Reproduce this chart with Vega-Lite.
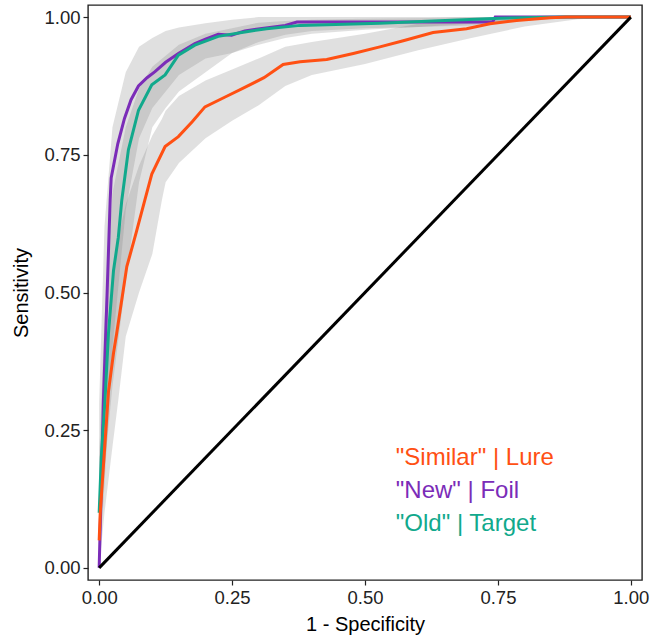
{
  "$schema": "https://vega.github.io/schema/vega-lite/v6.json",
  "width": 554,
  "height": 575,
  "autosize": "none",
  "padding": {"left": 88, "top": 5, "right": 21, "bottom": 57},
  "background": "white",
  "config": {
    "font": "Liberation Sans",
    "view": {"stroke": "#222222", "strokeWidth": 1.4},
    "axis": {
      "domain": false, "grid": false,
      "tickColor": "#222222", "tickSize": 5, "tickWidth": 1.2,
      "labelColor": "#222222", "labelFontSize": 18.5, "labelFont": "Liberation Sans",
      "titleColor": "#000000", "titleFontSize": 20, "titleFontWeight": "normal", "titleFont": "Liberation Sans"
    }
  },
  "datasets": {
    "bands": [
      {"s": "New", "fpr": 0, "lo": 0, "hi": 0.3},
      {"s": "New", "fpr": 0.01, "lo": 0.15, "hi": 0.62},
      {"s": "New", "fpr": 0.025, "lo": 0.4, "hi": 0.8},
      {"s": "New", "fpr": 0.05, "lo": 0.65, "hi": 0.9},
      {"s": "New", "fpr": 0.075, "lo": 0.78, "hi": 0.946},
      {"s": "New", "fpr": 0.1, "lo": 0.835, "hi": 0.962},
      {"s": "New", "fpr": 0.125, "lo": 0.865, "hi": 0.975},
      {"s": "New", "fpr": 0.15, "lo": 0.895, "hi": 0.981},
      {"s": "New", "fpr": 0.2, "lo": 0.925, "hi": 0.989},
      {"s": "New", "fpr": 0.25, "lo": 0.935, "hi": 0.995},
      {"s": "New", "fpr": 0.3, "lo": 0.955, "hi": 1},
      {"s": "New", "fpr": 0.35, "lo": 0.968, "hi": 1},
      {"s": "New", "fpr": 0.4, "lo": 0.975, "hi": 1},
      {"s": "New", "fpr": 0.5, "lo": 0.98, "hi": 1},
      {"s": "New", "fpr": 0.6, "lo": 0.982, "hi": 1},
      {"s": "New", "fpr": 0.7, "lo": 0.985, "hi": 1},
      {"s": "New", "fpr": 0.8, "lo": 0.995, "hi": 1},
      {"s": "New", "fpr": 0.9, "lo": 1, "hi": 1},
      {"s": "New", "fpr": 1, "lo": 1, "hi": 1},
      {"s": "Old", "fpr": 0, "lo": 0.02, "hi": 0.2},
      {"s": "Old", "fpr": 0.01, "lo": 0.18, "hi": 0.45},
      {"s": "Old", "fpr": 0.025, "lo": 0.33, "hi": 0.68},
      {"s": "Old", "fpr": 0.05, "lo": 0.52, "hi": 0.8},
      {"s": "Old", "fpr": 0.075, "lo": 0.7, "hi": 0.87},
      {"s": "Old", "fpr": 0.1, "lo": 0.8, "hi": 0.91},
      {"s": "Old", "fpr": 0.125, "lo": 0.835, "hi": 0.93},
      {"s": "Old", "fpr": 0.15, "lo": 0.865, "hi": 0.95},
      {"s": "Old", "fpr": 0.2, "lo": 0.9, "hi": 0.97},
      {"s": "Old", "fpr": 0.25, "lo": 0.935, "hi": 0.98},
      {"s": "Old", "fpr": 0.3, "lo": 0.95, "hi": 0.99},
      {"s": "Old", "fpr": 0.35, "lo": 0.962, "hi": 0.993},
      {"s": "Old", "fpr": 0.4, "lo": 0.97, "hi": 0.995},
      {"s": "Old", "fpr": 0.5, "lo": 0.977, "hi": 0.997},
      {"s": "Old", "fpr": 0.6, "lo": 0.982, "hi": 0.998},
      {"s": "Old", "fpr": 0.7, "lo": 0.988, "hi": 1},
      {"s": "Old", "fpr": 0.8, "lo": 0.994, "hi": 1},
      {"s": "Old", "fpr": 0.9, "lo": 0.999, "hi": 1},
      {"s": "Old", "fpr": 1, "lo": 1, "hi": 1},
      {"s": "Similar", "fpr": 0, "lo": 0, "hi": 0.15},
      {"s": "Similar", "fpr": 0.01, "lo": 0.1, "hi": 0.36},
      {"s": "Similar", "fpr": 0.025, "lo": 0.22, "hi": 0.53},
      {"s": "Similar", "fpr": 0.036, "lo": 0.305, "hi": 0.6},
      {"s": "Similar", "fpr": 0.05, "lo": 0.42, "hi": 0.66},
      {"s": "Similar", "fpr": 0.075, "lo": 0.5, "hi": 0.73},
      {"s": "Similar", "fpr": 0.1, "lo": 0.57, "hi": 0.785},
      {"s": "Similar", "fpr": 0.118, "lo": 0.668, "hi": 0.815},
      {"s": "Similar", "fpr": 0.125, "lo": 0.7, "hi": 0.83},
      {"s": "Similar", "fpr": 0.15, "lo": 0.735, "hi": 0.857},
      {"s": "Similar", "fpr": 0.2, "lo": 0.78, "hi": 0.885},
      {"s": "Similar", "fpr": 0.25, "lo": 0.812, "hi": 0.905},
      {"s": "Similar", "fpr": 0.3, "lo": 0.84, "hi": 0.925},
      {"s": "Similar", "fpr": 0.35, "lo": 0.875, "hi": 0.946},
      {"s": "Similar", "fpr": 0.4, "lo": 0.895, "hi": 0.955},
      {"s": "Similar", "fpr": 0.5, "lo": 0.915, "hi": 0.97},
      {"s": "Similar", "fpr": 0.6, "lo": 0.94, "hi": 0.988},
      {"s": "Similar", "fpr": 0.7, "lo": 0.962, "hi": 0.995},
      {"s": "Similar", "fpr": 0.8, "lo": 0.983, "hi": 1},
      {"s": "Similar", "fpr": 0.9, "lo": 0.996, "hi": 1},
      {"s": "Similar", "fpr": 1, "lo": 1, "hi": 1}
    ],
    "lines": [
      {"s": "New", "fpr": 0, "tpr": 0},
      {"s": "New", "fpr": 0.004, "tpr": 0.15},
      {"s": "New", "fpr": 0.008, "tpr": 0.305},
      {"s": "New", "fpr": 0.0145, "tpr": 0.486},
      {"s": "New", "fpr": 0.0207, "tpr": 0.668},
      {"s": "New", "fpr": 0.0226, "tpr": 0.708},
      {"s": "New", "fpr": 0.035, "tpr": 0.77},
      {"s": "New", "fpr": 0.0476, "tpr": 0.816},
      {"s": "New", "fpr": 0.06, "tpr": 0.85},
      {"s": "New", "fpr": 0.0739, "tpr": 0.875},
      {"s": "New", "fpr": 0.09, "tpr": 0.89},
      {"s": "New", "fpr": 0.105, "tpr": 0.901},
      {"s": "New", "fpr": 0.125, "tpr": 0.918},
      {"s": "New", "fpr": 0.149, "tpr": 0.934},
      {"s": "New", "fpr": 0.18, "tpr": 0.952},
      {"s": "New", "fpr": 0.2, "tpr": 0.96},
      {"s": "New", "fpr": 0.224, "tpr": 0.969},
      {"s": "New", "fpr": 0.249, "tpr": 0.967},
      {"s": "New", "fpr": 0.274, "tpr": 0.975},
      {"s": "New", "fpr": 0.31, "tpr": 0.98},
      {"s": "New", "fpr": 0.35, "tpr": 0.985},
      {"s": "New", "fpr": 0.372, "tpr": 0.991},
      {"s": "New", "fpr": 0.74, "tpr": 0.991},
      {"s": "New", "fpr": 0.745, "tpr": 1},
      {"s": "New", "fpr": 1, "tpr": 1},
      {"s": "Old", "fpr": 0, "tpr": 0.1},
      {"s": "Old", "fpr": 0.004, "tpr": 0.2},
      {"s": "Old", "fpr": 0.011, "tpr": 0.305},
      {"s": "Old", "fpr": 0.0175, "tpr": 0.426},
      {"s": "Old", "fpr": 0.027, "tpr": 0.54},
      {"s": "Old", "fpr": 0.036, "tpr": 0.6},
      {"s": "Old", "fpr": 0.0426, "tpr": 0.668},
      {"s": "Old", "fpr": 0.055, "tpr": 0.759},
      {"s": "Old", "fpr": 0.074, "tpr": 0.831},
      {"s": "Old", "fpr": 0.099, "tpr": 0.877},
      {"s": "Old", "fpr": 0.124, "tpr": 0.895},
      {"s": "Old", "fpr": 0.149, "tpr": 0.931},
      {"s": "Old", "fpr": 0.18, "tpr": 0.949},
      {"s": "Old", "fpr": 0.224, "tpr": 0.965},
      {"s": "Old", "fpr": 0.274, "tpr": 0.973},
      {"s": "Old", "fpr": 0.315, "tpr": 0.979},
      {"s": "Old", "fpr": 0.378, "tpr": 0.985},
      {"s": "Old", "fpr": 0.528, "tpr": 0.989},
      {"s": "Old", "fpr": 0.628, "tpr": 0.993},
      {"s": "Old", "fpr": 0.754, "tpr": 0.998},
      {"s": "Old", "fpr": 0.872, "tpr": 1},
      {"s": "Old", "fpr": 1, "tpr": 1},
      {"s": "Similar", "fpr": 0, "tpr": 0.05},
      {"s": "Similar", "fpr": 0.002, "tpr": 0.1},
      {"s": "Similar", "fpr": 0.0175, "tpr": 0.32},
      {"s": "Similar", "fpr": 0.027, "tpr": 0.39},
      {"s": "Similar", "fpr": 0.033, "tpr": 0.426},
      {"s": "Similar", "fpr": 0.052, "tpr": 0.547},
      {"s": "Similar", "fpr": 0.07, "tpr": 0.61},
      {"s": "Similar", "fpr": 0.086, "tpr": 0.668},
      {"s": "Similar", "fpr": 0.099, "tpr": 0.715},
      {"s": "Similar", "fpr": 0.124, "tpr": 0.765},
      {"s": "Similar", "fpr": 0.149, "tpr": 0.783},
      {"s": "Similar", "fpr": 0.175, "tpr": 0.81},
      {"s": "Similar", "fpr": 0.199, "tpr": 0.837},
      {"s": "Similar", "fpr": 0.237, "tpr": 0.855},
      {"s": "Similar", "fpr": 0.271, "tpr": 0.871},
      {"s": "Similar", "fpr": 0.31, "tpr": 0.89},
      {"s": "Similar", "fpr": 0.346, "tpr": 0.914},
      {"s": "Similar", "fpr": 0.378, "tpr": 0.919},
      {"s": "Similar", "fpr": 0.428, "tpr": 0.923},
      {"s": "Similar", "fpr": 0.478, "tpr": 0.934},
      {"s": "Similar", "fpr": 0.528, "tpr": 0.946},
      {"s": "Similar", "fpr": 0.572, "tpr": 0.957},
      {"s": "Similar", "fpr": 0.628, "tpr": 0.972},
      {"s": "Similar", "fpr": 0.691, "tpr": 0.979},
      {"s": "Similar", "fpr": 0.735, "tpr": 0.988},
      {"s": "Similar", "fpr": 0.785, "tpr": 0.994},
      {"s": "Similar", "fpr": 0.848, "tpr": 0.999},
      {"s": "Similar", "fpr": 0.879, "tpr": 1},
      {"s": "Similar", "fpr": 1, "tpr": 1}
    ],
    "diag": [
      {"fpr": 0, "tpr": 0},
      {"fpr": 1, "tpr": 1}
    ],
    "labels": [
      {"s": "Similar", "label": "\"Similar\" | Lure", "fpr": 0.558, "tpr": 0.2},
      {"s": "New", "label": "\"New\" | Foil", "fpr": 0.558, "tpr": 0.14},
      {"s": "Old", "label": "\"Old\" | Target", "fpr": 0.558, "tpr": 0.08}
    ]
  },
  "encoding": {
    "x": {
      "field": "fpr", "type": "quantitative", "title": "1 - Specificity",
      "scale": {"domain": [-0.021, 1.021], "nice": false, "zero": false},
      "axis": {"values": [0, 0.25, 0.5, 0.75, 1], "format": ".2f", "labelPadding": 3, "titlePadding": 8}
    },
    "y": {
      "field": "tpr", "type": "quantitative", "title": "Sensitivity",
      "scale": {"domain": [-0.022, 1.022], "nice": false, "zero": false},
      "axis": {"values": [0, 0.25, 0.5, 0.75, 1], "format": ".2f", "labelPadding": 3, "titlePadding": 12}
    }
  },
  "layer": [
    {
      "data": {"name": "bands"},
      "mark": {"type": "area", "fill": "#838383", "opacity": 0.25},
      "encoding": {
        "y": {"field": "lo", "type": "quantitative", "stack": null},
        "y2": {"field": "hi"},
        "detail": {"field": "s", "type": "nominal"}
      }
    },
    {
      "data": {"name": "lines"},
      "transform": [{"filter": "datum.s === 'New'"}],
      "mark": {"type": "line", "strokeWidth": 3},
      "encoding": {
        "color": {"field": "s", "type": "nominal", "legend": null,
          "scale": {"domain": ["Similar", "New", "Old"], "range": ["#FF5013", "#7B2CB8", "#11A98C"]}}
      }
    },
    {
      "data": {"name": "lines"},
      "transform": [{"filter": "datum.s === 'Old'"}],
      "mark": {"type": "line", "strokeWidth": 3},
      "encoding": {
        "color": {"field": "s", "type": "nominal", "legend": null}
      }
    },
    {
      "data": {"name": "lines"},
      "transform": [{"filter": "datum.s === 'Similar'"}],
      "mark": {"type": "line", "strokeWidth": 3},
      "encoding": {
        "color": {"field": "s", "type": "nominal", "legend": null}
      }
    },
    {
      "data": {"name": "diag"},
      "mark": {"type": "line", "strokeWidth": 3, "color": "#000000"},
      "encoding": {}
    },
    {
      "data": {"name": "labels"},
      "mark": {"type": "text", "align": "left", "baseline": "middle", "fontSize": 24, "font": "Liberation Sans"},
      "encoding": {
        "text": {"field": "label", "type": "nominal"},
        "color": {"field": "s", "type": "nominal", "legend": null}
      }
    }
  ]
}
